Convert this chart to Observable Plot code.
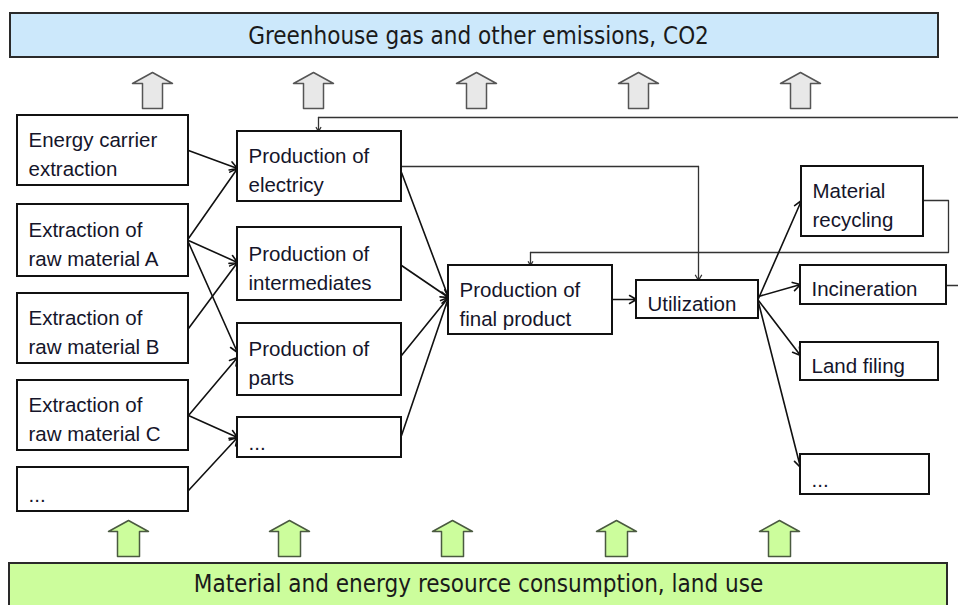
<!DOCTYPE html>
<html><head><meta charset="utf-8">
<script src="https://cdn.jsdelivr.net/npm/d3@7"></script>
<script src="https://cdn.jsdelivr.net/npm/@observablehq/plot@0.6"></script>
<style>html,body{margin:0;padding:0;background:#fff}svg{display:block}</style>
</head><body><div id="chart"></div>
<script>
// ---- content ----
const bandLabels = ["Greenhouse gas and other emissions, CO2", "Material and energy resource consumption, land use"];
const nodeIds = ["energy","rawA","rawB","rawC","srcMore","elec","inter","parts","prodMore","final","util","recyc","incin","land","wasteMore"];
const nodeLabels = [
  "Energy carrier\nextraction",
  "Extraction of\nraw material A",
  "Extraction of\nraw material B",
  "Extraction of\nraw material C",
  "...",
  "Production of\nelectricy",
  "Production of\nintermediates",
  "Production of\nparts",
  "...",
  "Production of\nfinal product",
  "Utilization",
  "Material\nrecycling",
  "Incineration",
  "Land filing",
  "..."
];
const flowSources = ["energy","rawA","rawA","rawA","rawB","rawC","rawC","srcMore","elec","inter","parts","prodMore","final","util","util","util","util"];
const flowTargets = ["elec","elec","inter","parts","inter","parts","prodMore","prodMore","final","final","final","final","util","recyc","incin","land","wasteMore"];

// ---- layout (diagram geometry) ----
const boxLayout = {
  energy:[17,188,115,185], rawA:[17,188,204,276], rawB:[17,188,293,363], rawC:[17,188,380,450], srcMore:[17,188,467,511],
  elec:[237,401,131,201], inter:[237,401,227,300], parts:[237,401,323,395], prodMore:[237,401,417,457],
  final:[448,612,265,334], util:[636,758,280,318],
  recyc:[801,923,166,236], incin:[800,946,265,304], land:[800,938,342,380], wasteMore:[800,929,454,494]
};
const flowPorts = [[150,168],[238,168],[240,262],[242,352],[328,262],[415,357],[415,437],[490,437],
  [172,297],[265,297],[355,297],[435,297],[299,299],[298,200],[296,284],[300,355],[302,467]];
const routes = [
  {id:"supply", pts:[[958,117],[318,117],[318,131]]},
  {id:"elecUse", pts:[[401,166],[698,166],[698,280]]},
  {id:"recycle", pts:[[923,200],[948,200],[948,252],[530,252],[530,265]]},
  {id:"incinOut", pts:[[946,285],[958,285]], noArrow:true}
];
const emissionX = [152,313,476,638,800];
const resourceX = [128,289,452,616,779];

// ---- build tables ----
const nodes = nodeIds.map((id,i)=>{const b=boxLayout[id];return {id,label:nodeLabels[i],x1:b[0],x2:b[1],y1:b[2],y2:b[3]};});
const byId = Object.fromEntries(nodes.map(n=>[n.id,n]));
const flows = flowSources.map((s,i)=>({x1:byId[s].x2,y1:flowPorts[i][0],x2:byId[flowTargets[i]].x1,y2:flowPorts[i][1]}));
const routeLines = routes.flatMap(r=>{const p=r.noArrow?r.pts:r.pts.slice(0,-1);return p.map(([x,y])=>({id:r.id,x,y}));});
const routeHeads = routes.filter(r=>!r.noArrow).map(r=>{const n=r.pts.length;return {x1:r.pts[n-2][0],y1:r.pts[n-2][1],x2:r.pts[n-1][0],y2:r.pts[n-1][1]};});
function blockArrow(cx,yt,yh,yb,hw,sw,id){
  return [[cx,yt],[cx+hw,yh],[cx+sw,yh],[cx+sw,yb],[cx-sw,yb],[cx-sw,yh],[cx-hw,yh]].map(([x,y])=>({id,x,y}));
}
const grayArrows = emissionX.flatMap((cx,i)=>blockArrow(cx,72,83,108,20,10,"g"+i));
const greenArrows = resourceX.flatMap((cx,i)=>blockArrow(cx,520,531,556,20,11,"r"+i));
const bands = [
  {label:bandLabels[0],x1:10,x2:938,y1:13,y2:57,fill:"#cce8fb"},
  {label:bandLabels[1],x1:9,x2:947,y1:563,y2:612,fill:"#ccfd9c"}
];
const bandText = [{label:bandLabels[0],x:478,y:36},{label:bandLabels[1],x:478,y:584}];
const nodeText = nodes.map(n=>({label:n.label,x:n.x1+11,y:(n.y1+n.y2)/2+ (n.label==="..."? 3 : 2)}));

const boxFont = "'Liberation Sans', Arial, sans-serif";
const bandFont = "'Liberation Sans Narrow', 'Arial Narrow', 'DejaVu Sans Condensed', sans-serif";

const chart = Plot.plot({
  width:958, height:605, margin:0,
  x:{domain:[0,958], range:[0,958], axis:null},
  y:{domain:[0,605], range:[0,605], axis:null},
  marks:[
    Plot.rect(bands,{x1:"x1",x2:"x2",y1:"y1",y2:"y2",fill:"fill",stroke:"#2a2a2a",strokeWidth:2}),
    Plot.text(bandText,{x:"x",y:"y",text:"label",fontSize:24,fontFamily:bandFont,fill:"#1a1a1a"}),
    Plot.line(grayArrows,{x:"x",y:"y",z:"id",curve:"linear-closed",fill:"#e8e8e8",stroke:"#555",strokeWidth:1.5}),
    Plot.line(greenArrows,{x:"x",y:"y",z:"id",curve:"linear-closed",fill:"#ccfd9c",stroke:"#4a5a40",strokeWidth:1.5}),
    Plot.line(routeLines,{x:"x",y:"y",z:"id",stroke:"#333",strokeWidth:1.3}),
    Plot.arrow(routeHeads,{x1:"x1",y1:"y1",x2:"x2",y2:"y2",stroke:"#333",strokeWidth:1.3,headLength:7}),
    Plot.arrow(flows,{x1:"x1",y1:"y1",x2:"x2",y2:"y2",stroke:"#111",strokeWidth:1.6,headLength:8}),
    Plot.rect(nodes,{x1:"x1",x2:"x2",y1:"y1",y2:"y2",fill:"white",stroke:"#111",strokeWidth:2}),
    Plot.text(nodeText,{x:"x",y:"y",text:"label",textAnchor:"start",fontSize:20.5,lineHeight:1.4,fontFamily:boxFont,fill:"#15152a"})
  ]
});
document.getElementById("chart").append(chart);
</script>
</body></html>
